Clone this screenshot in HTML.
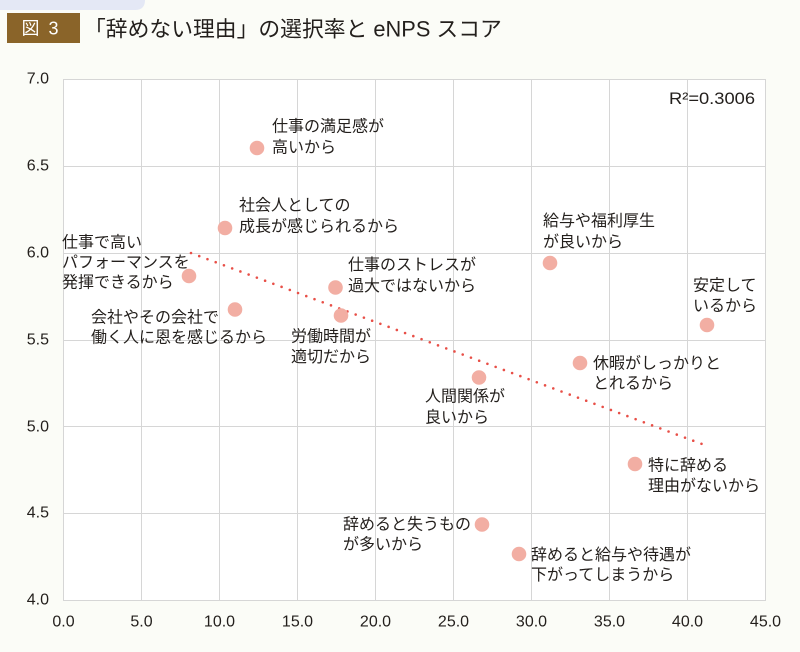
<!DOCTYPE html>
<html lang="ja">
<head>
<meta charset="utf-8">
<style>
  html,body{margin:0;padding:0;}
  body{width:800px;height:652px;background:#fbfcf7;overflow:hidden;}
  svg{display:block;}
  .lbl{font-family:"Liberation Sans","Noto Sans CJK JP",sans-serif;font-size:16px;fill:#231f1c;}
  .tick{font-family:"Liberation Sans","Noto Sans CJK JP",sans-serif;font-size:16px;fill:#231f1c;}
</style>
</head>
<body>
<svg width="800" height="652" viewBox="0 0 800 652" xmlns="http://www.w3.org/2000/svg">
  <!-- top-left light blue tab -->
  <path d="M0 0 H145 V0 Q145 10 135 10 H0 Z" fill="#e4e8f5"/>
  <!-- figure badge -->
  <rect x="7" y="13" width="73" height="30" fill="#8a6429"/>
  <text x="41" y="28.5" dominant-baseline="central" text-anchor="middle" font-family="Liberation Sans,'Noto Sans CJK JP',sans-serif" font-size="18" fill="#ffffff" letter-spacing="2">図 3</text>
  <!-- title -->
  <text x="84" y="29" dominant-baseline="central" font-family="Liberation Sans,'Noto Sans CJK JP',sans-serif" font-size="21.8" fill="#231f1c">「辞めない理由」の選択率と eNPS スコア</text>

  <!-- plot area -->
  <rect x="63" y="79" width="702" height="521" fill="#ffffff"/>
  <g stroke="#d6d6d6" stroke-width="1" fill="none">
    <line x1="63.5" y1="79" x2="63.5" y2="600"/>
    <line x1="141.5" y1="79" x2="141.5" y2="600"/>
    <line x1="219.5" y1="79" x2="219.5" y2="600"/>
    <line x1="297.5" y1="79" x2="297.5" y2="600"/>
    <line x1="375.5" y1="79" x2="375.5" y2="600"/>
    <line x1="453.5" y1="79" x2="453.5" y2="600"/>
    <line x1="531.5" y1="79" x2="531.5" y2="600"/>
    <line x1="609.5" y1="79" x2="609.5" y2="600"/>
    <line x1="687.5" y1="79" x2="687.5" y2="600"/>
    <line x1="765.5" y1="79" x2="765.5" y2="600"/>
    <line x1="63" y1="79.5" x2="766" y2="79.5"/>
    <line x1="63" y1="166.5" x2="766" y2="166.5"/>
    <line x1="63" y1="253.5" x2="766" y2="253.5"/>
    <line x1="63" y1="340.5" x2="766" y2="340.5"/>
    <line x1="63" y1="426.5" x2="766" y2="426.5"/>
    <line x1="63" y1="513.5" x2="766" y2="513.5"/>
    <line x1="63" y1="600.5" x2="766" y2="600.5"/>
  </g>

  <!-- y ticks -->
  <g class="tick" text-anchor="end">
    <text x="49" y="79" dominant-baseline="central">7.0</text>
    <text x="49" y="166" dominant-baseline="central">6.5</text>
    <text x="49" y="253" dominant-baseline="central">6.0</text>
    <text x="49" y="340" dominant-baseline="central">5.5</text>
    <text x="49" y="427" dominant-baseline="central">5.0</text>
    <text x="49" y="513" dominant-baseline="central">4.5</text>
    <text x="49" y="600" dominant-baseline="central">4.0</text>
  </g>
  <!-- x ticks -->
  <g class="tick" text-anchor="middle">
    <text x="63.5" y="622" dominant-baseline="central">0.0</text>
    <text x="141.5" y="622" dominant-baseline="central">5.0</text>
    <text x="219.5" y="622" dominant-baseline="central">10.0</text>
    <text x="297.5" y="622" dominant-baseline="central">15.0</text>
    <text x="375.5" y="622" dominant-baseline="central">20.0</text>
    <text x="453.5" y="622" dominant-baseline="central">25.0</text>
    <text x="531.5" y="622" dominant-baseline="central">30.0</text>
    <text x="609.5" y="622" dominant-baseline="central">35.0</text>
    <text x="687.5" y="622" dominant-baseline="central">40.0</text>
    <text x="765.5" y="622" dominant-baseline="central">45.0</text>
  </g>

  <!-- R2 -->
  <text x="755" y="99" dominant-baseline="central" text-anchor="end" font-family="Liberation Sans,sans-serif" font-size="16.5" fill="#231f1c" textLength="86" lengthAdjust="spacingAndGlyphs">R²=0.3006</text>

  <!-- trend line -->
  <line x1="191" y1="253" x2="702" y2="444" stroke="#e84f47" stroke-width="2.6" stroke-linecap="round" stroke-dasharray="0 8.79"/>

  <!-- points -->
  <g fill="#f2aea3">
    <circle cx="257" cy="148" r="7.3"/>
    <circle cx="225" cy="228" r="7.3"/>
    <circle cx="189" cy="276" r="7.3"/>
    <circle cx="235" cy="309.5" r="7.3"/>
    <circle cx="335.5" cy="287.5" r="7.3"/>
    <circle cx="341" cy="315.5" r="7.3"/>
    <circle cx="479" cy="377.5" r="7.3"/>
    <circle cx="550" cy="263" r="7.3"/>
    <circle cx="580" cy="363" r="7.3"/>
    <circle cx="707" cy="325" r="7.3"/>
    <circle cx="635" cy="464" r="7.3"/>
    <circle cx="482" cy="524.5" r="7.3"/>
    <circle cx="519" cy="554" r="7.3"/>
  </g>

  <!-- labels -->
  <g class="lbl">
    <text x="272" y="127" dominant-baseline="central">仕事の満足感が</text>
    <text x="272" y="148" dominant-baseline="central">高いから</text>

    <text x="239" y="206" dominant-baseline="central">社会人としての</text>
    <text x="239" y="227" dominant-baseline="central">成長が感じられるから</text>

    <text x="62" y="243" dominant-baseline="central">仕事で高い</text>
    <text x="62" y="263" dominant-baseline="central">パフォーマンスを</text>
    <text x="62" y="283" dominant-baseline="central">発揮できるから</text>

    <text x="91" y="318" dominant-baseline="central">会社やその会社で</text>
    <text x="91" y="338" dominant-baseline="central">働く人に恩を感じるから</text>

    <text x="348" y="265.5" dominant-baseline="central">仕事のストレスが</text>
    <text x="348" y="286.5" dominant-baseline="central">過大ではないから</text>

    <text x="291" y="337" dominant-baseline="central">労働時間が</text>
    <text x="291" y="357.5" dominant-baseline="central">適切だから</text>

    <text x="543" y="221.5" dominant-baseline="central">給与や福利厚生</text>
    <text x="543" y="242.5" dominant-baseline="central">が良いから</text>

    <text x="693" y="286" dominant-baseline="central">安定して</text>
    <text x="693" y="306.5" dominant-baseline="central">いるから</text>

    <text x="593" y="364" dominant-baseline="central">休暇がしっかりと</text>
    <text x="593" y="384" dominant-baseline="central">とれるから</text>

    <text x="425" y="397" dominant-baseline="central">人間関係が</text>
    <text x="425" y="418" dominant-baseline="central">良いから</text>

    <text x="648" y="466" dominant-baseline="central">特に辞める</text>
    <text x="648" y="486.5" dominant-baseline="central">理由がないから</text>

    <text x="343" y="525" dominant-baseline="central">辞めると失うもの</text>
    <text x="343" y="545" dominant-baseline="central">が多いから</text>

    <text x="531" y="555.5" dominant-baseline="central">辞めると給与や待遇が</text>
    <text x="531" y="575.5" dominant-baseline="central">下がってしまうから</text>
  </g>
</svg>
</body>
</html>
